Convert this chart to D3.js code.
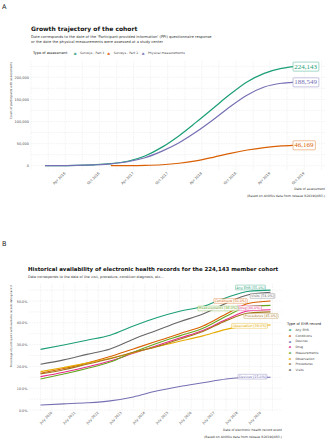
<!DOCTYPE html>
<html>
<head>
<meta charset="utf-8">
<script src="https://cdn.jsdelivr.net/npm/d3@7"></script>
<style>
  body { margin: 0; background: #fff; }
  text { font-family: "DejaVu Sans", sans-serif; }
</style>
</head>
<body>
<div id="chart"></div>
<script>
// ---- Panel A data (cumulative participants) ----
const assessTypes = ["Surveys - Part 1", "Surveys - Part 2", "Physical measurements"];
const assessColors = ["#1b9e77", "#d95f02", "#7570b3"];

const part1Dates = ["2015-12-15","2016-03-01","2016-06-01","2016-09-01","2016-12-01","2017-03-01","2017-06-01","2017-09-01","2017-12-01","2018-03-01","2018-06-01","2018-09-01","2018-12-01","2019-03-01","2019-06-01","2019-08-01"];
const part1Vals  = [0, 200, 700, 2000, 4500, 10000, 22000, 42000, 68000, 98000, 130000, 162000, 190000, 209000, 220000, 224143];

const physDates = part1Dates;
const physVals  = [0, 200, 700, 2000, 4300, 9000, 18000, 33000, 52000, 76000, 104000, 134000, 160000, 178000, 186500, 188549];

const part2Dates = ["2016-12-01","2017-03-01","2017-06-01","2017-09-01","2017-12-01","2018-03-01","2018-06-01","2018-09-01","2018-12-01","2019-03-01","2019-06-01","2019-08-01"];
const part2Vals  = [0, 150, 700, 2200, 5500, 11000, 19000, 28000, 35500, 41000, 44800, 46169];

const tickDatesA = ["2016-04-01","2016-10-01","2017-04-01","2017-10-01","2018-04-01","2018-10-01","2019-04-01","2019-10-01"];
const tickValsA = [0, 50000, 100000, 150000, 200000];

// ---- Panel B data (% of cohort with records back to date) ----
const ehrTypes = ["Any EHR","Conditions","Devices","Drug","Measurements","Observation","Procedures","Visits"];
const ehrColors = ["#1b9e77","#d95f02","#7570b3","#e7298a","#66a61e","#e6ab02","#a6761d","#666666"];
const ehrDates = ["2010-01-01","2011-01-01","2012-01-01","2013-01-01","2014-01-01","2015-01-01","2016-01-01","2017-01-01","2018-01-01","2019-01-01","2019-12-01"];
const anyEhr       = [27.8, 29.8, 32.0, 34.3, 38.5, 42.3, 45.3, 47.5, 51.5, 54.5, 55.0];
const conditions   = [16.8, 19.0, 21.5, 24.5, 28.0, 31.5, 35.0, 38.5, 44.0, 49.0, 50.0];
const devices      = [2.3, 2.8, 3.3, 4.2, 6.0, 8.7, 10.8, 12.5, 14.2, 15.0, 15.0];
const drug         = [15.3, 17.3, 19.7, 22.5, 26.0, 29.5, 33.0, 36.5, 41.5, 45.5, 46.0];
const measurements = [14.2, 16.5, 19.0, 22.0, 26.5, 30.5, 34.0, 37.5, 43.0, 47.5, 48.0];
const observation  = [17.6, 19.5, 21.5, 23.7, 26.3, 29.0, 31.5, 34.0, 37.0, 38.7, 39.0];
const procedures   = [16.5, 18.5, 21.0, 23.5, 26.5, 29.0, 32.5, 36.0, 41.0, 44.5, 45.0];
const visits       = [21.0, 23.0, 25.5, 28.0, 32.5, 36.5, 40.5, 44.0, 49.0, 53.0, 54.0];
const ehrSeries = [anyEhr, conditions, devices, drug, measurements, observation, procedures, visits];

const tickYearsB = [2010,2011,2012,2013,2014,2015,2016,2017,2018,2019];
const tickValsB = [0, 10, 20, 30, 40, 50];

// label placement (pixel nudges from line end), layout only
const labelDxB = [-20, -40, -18, -21, -52.5, -21, -9.5, -8];
const labelDyB = [-2.6, 0, -0.6, -1.7, 3.1, 1, 4.1, 3.7];

const parse = d3.timeParse("%Y-%m-%d");

const svg = d3.select("#chart").append("svg")
  .attr("width", 328).attr("height", 440);

const gridColor = "#e6e6e6";

function label(g, x, y, txt, color, opts) {
  const t = g.append("text")
    .attr("x", x).attr("y", y)
    .attr("text-anchor", opts.anchor || "middle")
    .attr("dominant-baseline", "central")
    .attr("font-size", opts.size + "px")
    .style("font-family", opts.family || null)
    .attr("fill", color)
    .text(txt);
  const bb = t.node().getBBox();
  g.insert("rect", () => t.node())
    .attr("x", bb.x - opts.pad).attr("y", bb.y - opts.pad * 0.4)
    .attr("width", bb.width + opts.pad * 2).attr("height", bb.height + opts.pad * 0.8)
    .attr("rx", opts.pad * 0.6)
    .attr("fill", "#fff").attr("fill-opacity", 0.9)
    .attr("stroke", color).attr("stroke-width", opts.sw);
}

// ================= PANEL A =================
svg.append("text").attr("x", 2).attr("y", 9).attr("font-size", "6.5px").attr("fill", "#222").text("A");

svg.append("text").attr("x", 31).attr("y", 31).attr("font-size", "6px").attr("font-weight", "bold").attr("fill", "#111")
  .text("Growth trajectory of the cohort");
svg.append("text").attr("x", 31).attr("y", 38.3).attr("font-size", "3.65px").attr("fill", "#333")
  .text("Date corresponds to the date of the 'Participant-provided information' (PPI) questionnaire response");
svg.append("text").attr("x", 31).attr("y", 43.2).attr("font-size", "3.65px").attr("fill", "#333")
  .text(" or the date the physical measurements were assessed at a study center");

// legend A
const legA = svg.append("g");
legA.append("text").attr("x", 33).attr("y", 54.3).attr("font-size", "3.5px").attr("fill", "#222").text("Type of assessment");
const legAx = [75, 108.7, 143];
assessTypes.forEach((t, i) => {
  legA.append("text").attr("x", legAx[i]).attr("y", 54.5).attr("text-anchor", "middle")
    .attr("font-size", "4px").attr("font-weight", "bold").attr("fill", assessColors[i]).text("a");
  legA.append("text").attr("x", legAx[i] + 5).attr("y", 54.3).attr("font-size", "3.1px").attr("fill", "#444").text(t);
});

const xA = d3.scaleTime().domain([new Date(2015, 9, 1), new Date(2020, 0, 20)]).range([31, 325]);
const yA = d3.scaleLinear().domain([0, 200000]).range([165.7, 77.3]);
const topA = 61, botA = 171;

const gA = svg.append("g");
// grid
const minorA = d3.timeMonth.every(3).range(new Date(2015, 9, 1), new Date(2020, 1, 1));
gA.selectAll(".vgA").data(minorA).join("line")
  .attr("x1", d => xA(d)).attr("x2", d => xA(d)).attr("y1", topA).attr("y2", botA)
  .attr("stroke", gridColor).attr("stroke-width", 0.5).attr("stroke-dasharray", "1.5,1");
const hA = d3.range(0, 250000, 25000);
gA.selectAll(".hgA").data(hA).join("line")
  .attr("x1", 31).attr("x2", 325).attr("y1", d => yA(d)).attr("y2", d => yA(d))
  .attr("stroke", gridColor).attr("stroke-width", 0.5).attr("stroke-dasharray", "1.5,1");

// axes A
const axLA = gA.append("g").attr("transform", "translate(30,0)")
  .call(d3.axisLeft(yA).tickValues(tickValsA).tickFormat(d3.format(",")).tickSize(0).tickPadding(1));
axLA.select(".domain").remove();
axLA.selectAll("text").attr("font-size", "3.5px").attr("fill", "#4d4d4d").style("font-family", null);

const axBA = gA.append("g").attr("transform", `translate(0,${botA})`)
  .call(d3.axisBottom(xA).tickValues(tickDatesA.map(parse)).tickFormat(d3.timeFormat("%b %Y")).tickSize(0));
axBA.select(".domain").remove();
axBA.selectAll("text").attr("font-size", "3.5px").attr("fill", "#4d4d4d").style("font-family", null)
  .attr("text-anchor", "end").attr("dy", null).attr("y", 0)
  .attr("transform", "translate(0,2.5) rotate(-45)");

svg.append("text").attr("transform", `translate(12,${topA + 1}) rotate(-90)`).attr("text-anchor", "end")
  .attr("font-size", "2.9px").attr("fill", "#333").text("Count of participants with assessments");
svg.append("text").attr("x", 325).attr("y", 190).attr("text-anchor", "end")
  .attr("font-size", "3.1px").attr("fill", "#333").text("Date of assessment");
svg.append("text").attr("x", 325).attr("y", 196.5).attr("text-anchor", "end")
  .attr("font-size", "3.1px").attr("fill", "#333").text("(Based on AllOfUs data from release R2019Q4R3.)");

// lines A
const seriesA = [
  { dates: part2Dates, vals: part2Vals, color: assessColors[1] },
  { dates: part1Dates, vals: part1Vals, color: assessColors[0] },
  { dates: physDates, vals: physVals, color: assessColors[2] }
];
const lineA = d3.line().x(d => xA(d[0])).y(d => yA(d[1])).curve(d3.curveMonotoneX);
seriesA.forEach(s => {
  const pts = s.dates.map((d, i) => [parse(d), s.vals[i]]);
  gA.append("path").datum(pts).attr("fill", "none").attr("stroke", s.color)
    .attr("stroke-width", 1.2).attr("d", lineA);
  const last = pts[pts.length - 1];
  label(gA, xA(last[0]) + 1.5, yA(last[1]), d3.format(",")(last[1]), s.color,
    { anchor: "start", size: 7, pad: 1.3, sw: 0.4, family: "Liberation Serif" });
});

// ================= PANEL B =================
svg.append("text").attr("x", 2).attr("y", 246).attr("font-size", "6.5px").attr("fill", "#222").text("B");

svg.append("text").attr("x", 28).attr("y", 271).attr("font-size", "5.45px").attr("font-weight", "bold").attr("fill", "#111")
  .text("Historical availability of electronic health records for the 224,143 member cohort");
svg.append("text").attr("x", 28).attr("y", 278.3).attr("font-size", "3.45px").attr("fill", "#333")
  .text("Date corresponds to the date of the visit, procedure, condition diagnosis, etc...");

const xB = d3.scaleTime().domain([new Date(2010, 6, 1), new Date(2019, 6, 1)]).range([52, 260.8]);
const yB = d3.scaleLinear().domain([0, 50]).range([410, 301]);
const leftB = 29, rightB = 282, topB = 284, botB = 411;

const gB = svg.append("g");
const minorB = d3.timeMonth.every(6).range(new Date(2010, 0, 1), new Date(2020, 1, 1));
gB.selectAll(".vgB").data(minorB).join("line")
  .attr("x1", d => xB(d)).attr("x2", d => xB(d)).attr("y1", topB).attr("y2", botB)
  .attr("stroke", gridColor).attr("stroke-width", 0.5).attr("stroke-dasharray", "1.5,1");
gB.selectAll(".hgB").data(d3.range(0, 60, 5)).join("line")
  .attr("x1", leftB).attr("x2", rightB).attr("y1", d => yB(d)).attr("y2", d => yB(d))
  .attr("stroke", gridColor).attr("stroke-width", 0.5).attr("stroke-dasharray", "1.5,1");

const axLB = gB.append("g").attr("transform", `translate(${leftB - 1.5},0)`)
  .call(d3.axisLeft(yB).tickValues(tickValsB).tickFormat(d => d.toFixed(1) + "%").tickSize(0).tickPadding(0));
axLB.select(".domain").remove();
axLB.selectAll("text").attr("font-size", "3.4px").attr("fill", "#4d4d4d").style("font-family", null);

const axBB = gB.append("g").attr("transform", `translate(0,${botB})`)
  .call(d3.axisBottom(xB).tickValues(tickYearsB.map(y => new Date(y, 6, 1))).tickFormat(d3.timeFormat("%B %Y")).tickSize(0));
axBB.select(".domain").remove();
axBB.selectAll("text").attr("font-size", "3.4px").attr("fill", "#4d4d4d").style("font-family", null)
  .attr("text-anchor", "end").attr("dy", null).attr("y", 0)
  .attr("transform", "translate(0,2) rotate(-45)");

svg.append("text").attr("transform", `translate(12,${topB + 1}) rotate(-90)`).attr("text-anchor", "end")
  .attr("font-size", "2.6px").attr("fill", "#333").text("Percentage of participants with available records dating back X");
svg.append("text").attr("x", rightB).attr("y", 431).attr("text-anchor", "end")
  .attr("font-size", "3.1px").attr("fill", "#333").text("Date of electronic health record event");
svg.append("text").attr("x", rightB).attr("y", 437.5).attr("text-anchor", "end")
  .attr("font-size", "3.1px").attr("fill", "#333").text("(Based on AllOfUs data from release R2019Q4R3.)");

const lineB = d3.line().x(d => xB(d[0])).y(d => yB(d[1])).curve(d3.curveMonotoneX);
const ehrParsed = ehrDates.map(parse);
ehrSeries.forEach((vals, i) => {
  gB.append("path").datum(ehrParsed.map((d, j) => [d, vals[j]]))
    .attr("fill", "none").attr("stroke", ehrColors[i]).attr("stroke-width", 1.1).attr("d", lineB);
});
ehrSeries.forEach((vals, i) => {
  const lastD = ehrParsed[ehrParsed.length - 1];
  const v = vals[vals.length - 1];
  label(gB, xB(lastD) + labelDxB[i], yB(v) + labelDyB[i], `${ehrTypes[i]} [${v.toFixed(1)}%]`, ehrColors[i],
    { anchor: "middle", size: 3.3, pad: 0.9, sw: 0.35 });
});

// legend B
const legB = svg.append("g");
legB.append("text").attr("x", 287).attr("y", 325).attr("font-size", "3.6px").attr("fill", "#222").text("Type of EHR record");
ehrTypes.forEach((t, i) => {
  const y = 331 + i * 5.7;
  legB.append("text").attr("x", 290).attr("y", y + 0.2).attr("text-anchor", "middle")
    .attr("font-size", "3.6px").attr("font-weight", "bold").attr("fill", ehrColors[i]).text("a");
  legB.append("text").attr("x", 295.5).attr("y", y).attr("font-size", "3.1px").attr("fill", "#444").text(t);
});
</script>
</body>
</html>
